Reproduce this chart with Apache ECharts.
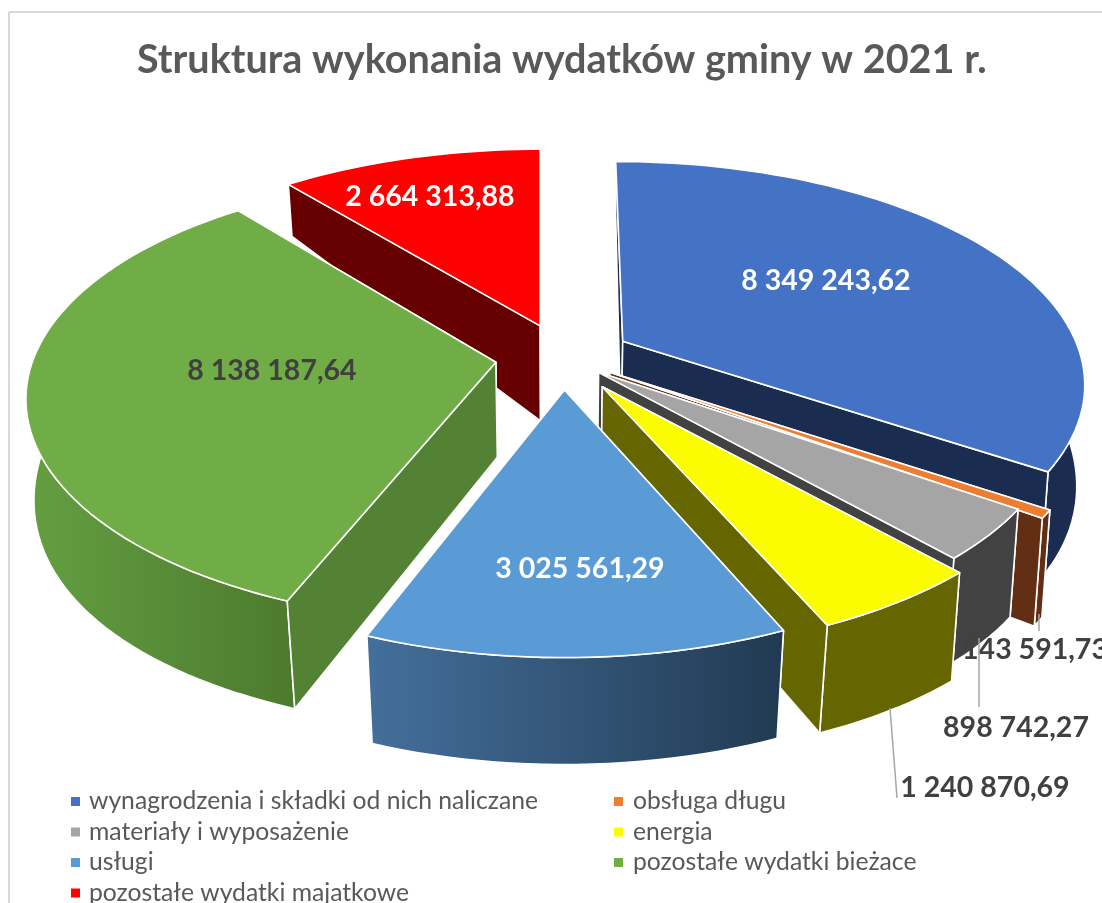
<!DOCTYPE html>
<html><head><meta charset="utf-8">
<style>html,body{margin:0;padding:0;background:#fff;overflow:hidden}#c{width:1102px;height:903px}</style>
<script src="https://cdn.jsdelivr.net/npm/echarts@6/dist/echarts.min.js"></script>
</head><body><div id="c"></div>
<script>
// --- data ---
var categories = ['wynagrodzenia i składki od nich naliczane','obsługa długu','materiały i wyposażenie','energia','usługi','pozostałe wydatki bieżace','pozostałe wydatki majatkowe'];
var values = [8349243.62,143591.73,898742.27,1240870.69,3025561.29,8138187.64,2664313.88];
// --- styling per slice ---
var topColors  = ['#4472c4','#ed7d31','#a5a5a5','#fcfc00','#5b9bd5','#70ad47','#ff0000'];
var sideColors = ['#1a2c50','#622f14','#424242','#666600','#2f5878','#548235','#660000'];
var rimColors  = [['#1a2c50','#1a2c50'],['#622f14','#622f14'],['#424242','#424242'],['#666600','#666600'],['#446f9b','#213a52'],['#649f41','#4c7a2e'],['#660000','#660000']];
var labelColors= ['#ffffff','#404040','#404040','#404040','#ffffff','#404040','#ffffff'];
var explodeK   = [1,0.83,0.7,1.07,1,1,1];
var rimNudge   = [[-7,0],[17,7],[4,-2],[6,-2],[0,0],[-11,-7],[0,3]];
var rimScaleX  = [1.022,1,1,1,1,1,1.02];
var labelPos   = [[826,281],[1035,650],[1016,728],[985,788],[580,569],[272,371],[430,197]];
var leaders    = [null,[[1039,614],[1039,631]],[[979,638],[979,707]],[[890,708],[897,798]],null,null,null];
var drawOrder  = [3,4,5,6,7,2,1];
// --- projection ---
var CX=563,CY=357,EX=68,EY=33,RX=450,RY=215,PB=0.1965,TAPER=0.026,VX=555,MAXT=8;
var total=values.reduce(function(a,b){return a+b;},0);
function fmt(v){var p=v.toFixed(2).split('.');return p[0].replace(/\B(?=(\d{3})+$)/g,' ')+','+p[1];}
function proj(theta){var x=Math.sin(theta),y=Math.cos(theta),d=1+PB*y;return {x:RX*x/d,y:-RY*y/d,py:y};}
function depth(y){return 95-36.5*y-24.5*y*y;}
function bottom(p,h){
  var dx=TAPER*(p[0]-VX)*h/100;
  return [p[0]-Math.max(-MAXT,Math.min(dx,MAXT)),p[1]+h];
}
function makeItem(i){
  return function(params,api){
    var v=api.value(0),before=0;
    for(var k=0;k<i;k++)before+=values[k];
    var a0=before/total*2*Math.PI,a1=(before+v)/total*2*Math.PI,mid=(a0+a1)/2;
    var ax=CX+EX*explodeK[i]*Math.sin(mid),ay=CY-EY*explodeK[i]*Math.cos(mid);
    var n=Math.max(2,Math.ceil((a1-a0)/0.03)),rim=[],rimB=[],frontTop=[],frontBot=[];
    for(var s=0;s<=n;s++){
      var p=proj(a0+(a1-a0)*s/n);
      var pt=[ax+rimNudge[i][0]+p.x*rimScaleX[i],ay+rimNudge[i][1]+p.y];
      var pb=bottom(pt,depth(p.py));
      rim.push(pt);rimB.push(pb);
      if(p.py<0.1){frontTop.push(pt);frontBot.push(pb);}
    }
    var apex=[ax,ay],apexB=bottom(apex,depth(0));
    var stroke={stroke:'#ffffff',lineWidth:1.6,lineJoin:'round'};
    function poly(pts,fill){return {type:'polygon',silent:true,shape:{points:pts},style:Object.assign({fill:fill},stroke)};}
    var w0=poly([apex,rim[0],rimB[0],apexB],sideColors[i]),w1=poly([apex,rim[n],rimB[n],apexB],sideColors[i]);
    var w0front=-Math.sin(a0)>=-1e-6,w1front=Math.sin(a1)>=-1e-6;
    var kids=[];
    if(!w0front)kids.push(w0);
    if(!w1front)kids.push(w1);
    if(frontTop.length>1){
      var grad={type:'linear',x:0,y:0,x2:1,y2:0,colorStops:[{offset:0,color:rimColors[i][0]},{offset:1,color:rimColors[i][1]}]};
      kids.push(poly(frontTop.concat(frontBot.slice().reverse()),grad));
    }
    if(w0front)kids.push(w0);
    if(w1front)kids.push(w1);
    kids.push(poly([apex].concat(rim),topColors[i]));
    return {type:'group',children:kids};
  };
}
var series=values.map(function(v,i){
  return {type:'custom',name:categories[i],coordinateSystem:'none',silent:true,z:drawOrder[i],
    itemStyle:{color:topColors[i]},data:[[v]],renderItem:makeItem(i)};
});
// data labels and their leader lines sit above every slice
series.push({type:'custom',name:'etykiety',coordinateSystem:'none',silent:true,z:10,
  data:values.map(function(v,i){return [v,i];}),
  renderItem:function(params,api){
    var i=api.value(1),kids=[];
    if(leaders[i])kids.push({type:'polyline',silent:true,shape:{points:leaders[i]},style:{stroke:'#a6a6a6',lineWidth:1.5,fill:null}});
    kids.push({type:'text',silent:true,style:{text:fmt(api.value(0)),x:labelPos[i][0],y:labelPos[i][1],align:'center',verticalAlign:'middle',fill:labelColors[i],font:'bold 28.5px Lato'}});
    return {type:'group',children:kids};
  }});
function legend(idx,left,textGap){
  return {orient:'vertical',left:left,top:789,height:200,padding:0,itemWidth:9,itemHeight:9,itemGap:5.5,icon:'rect',selectedMode:false,
    data:idx.map(function(k){return categories[k];}),
    textStyle:{color:'#595959',fontFamily:'Lato',fontSize:24.7,padding:[0,0,0,textGap]}};
}
var chart=echarts.init(document.getElementById('c'),null,{renderer:'canvas'});
chart.setOption({
  animation:false,backgroundColor:'#ffffff',color:topColors,
  title:{text:'Struktura wykonania wydatków gminy w 2021 r.',left:137,top:40,padding:0,
    textStyle:{color:'#595959',fontFamily:'Lato',fontWeight:'bold',fontSize:39.6}},
  tooltip:{show:false},
  legend:[legend([0,2,4,6],71,4),legend([1,3,5],614,5)],
  graphic:[
    {type:'line',silent:true,shape:{x1:9,y1:12,x2:9,y2:903},style:{stroke:'#d9d9d9',lineWidth:2}},
    {type:'line',silent:true,shape:{x1:9,y1:12,x2:1102,y2:12},style:{stroke:'#d9d9d9',lineWidth:2}}
  ],
  series:series
});
</script></body></html>
